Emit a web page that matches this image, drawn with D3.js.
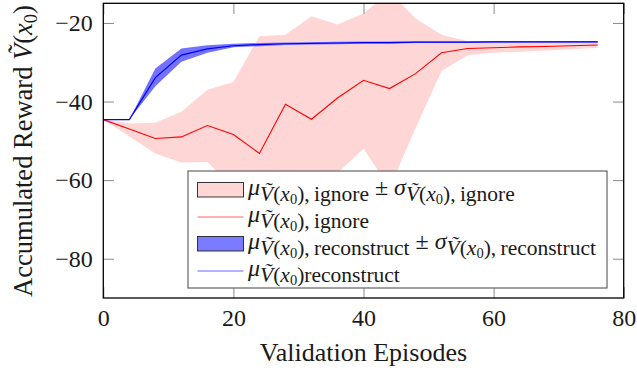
<!DOCTYPE html>
<html><head><meta charset="utf-8">
<script src="https://cdn.jsdelivr.net/npm/d3@7"></script>
</head><body style="margin:0;background:#fff">
<svg id="c" width="637" height="371"></svg>
<script>
const episodes = [0,4,8,12,16,20,24,28,32,36,40,44,48,52,56,60,64,68,72,76];
const ignoreMean  = [-44.6,-47.0,-49.4,-49.0,-46.1,-48.4,-53.2,-40.7,-44.5,-39.1,-34.6,-36.7,-32.9,-27.6,-26.5,-26.3,-26.1,-26.0,-25.8,-25.6];
const ignoreUpper = [-44.6,-45.6,-45.4,-42.6,-37.0,-35.0,-23.4,-23.0,-18.3,-20.4,-17.6,-12.0,-18.9,-23.0,-24.6,-24.7,-24.7,-24.8,-24.8,-24.9];
const ignoreLower = [-44.6,-48.9,-53.2,-55.5,-55.4,-62.0,-68.0,-66.0,-64.0,-58.2,-52.0,-62.0,-46.8,-32.2,-28.2,-27.6,-27.3,-27.0,-26.7,-26.4];
const reconMean   = [-44.6,-44.6,-33.9,-28.2,-26.6,-25.8,-25.5,-25.3,-25.2,-25.1,-25.0,-25.0,-24.9,-24.9,-24.9,-24.8,-24.8,-24.8,-24.8,-24.8];
const reconUpper  = [-44.6,-44.6,-31.6,-26.5,-25.7,-25.3,-25.1,-25.0,-24.9,-24.8,-24.7,-24.7,-24.7,-24.7,-24.7,-24.6,-24.6,-24.6,-24.6,-24.6];
const reconLower  = [-44.6,-44.6,-36.1,-29.9,-27.6,-26.2,-25.9,-25.6,-25.5,-25.4,-25.3,-25.3,-25.1,-25.1,-25.1,-25.0,-25.0,-25.0,-25.0,-25.0];
const xTicks = [0,20,40,60,80];
const yTicks = [-80,-60,-40,-20];

const FONT = 'Liberation Serif';
const INK = '#1a1a1a';
const svg = d3.select('#c');
const M = {l:103.3, r:623.7, t:3.3, b:298};
const x = d3.scaleLinear().domain([0,80]).range([M.l, M.r]);
const y = d3.scaleLinear().domain([-90,-15]).range([M.b, M.t]);

function txt(sel, size){
  return sel.append('text').attr('font-family', FONT).attr('font-size', size).attr('fill', INK);
}

svg.append('defs').append('clipPath').attr('id','clip')
  .append('rect').attr('x',M.l).attr('y',M.t).attr('width',M.r-M.l).attr('height',M.b-M.t);

const g = svg.append('g').attr('clip-path','url(#clip)');
const area = (lo,hi)=>d3.area().x((d,i)=>x(episodes[i])).y0((d,i)=>y(lo[i])).y1((d,i)=>y(hi[i]));
const line = (v)=>d3.line().x((d,i)=>x(episodes[i])).y((d,i)=>y(v[i]));

g.append('path').attr('d',area(ignoreLower,ignoreUpper)(episodes)).attr('fill','#ffd6d6');
g.append('path').attr('d',line(ignoreMean)(episodes)).attr('fill','none').attr('stroke','#ff0000').attr('stroke-width',1.1);
g.append('path').attr('d',area(reconLower,reconUpper)(episodes)).attr('fill','#7272ff');
g.append('path').attr('d',line(reconMean)(episodes)).attr('fill','none').attr('stroke','#0000ff').attr('stroke-width',1.2);

// axes
const TS = 10.7;
function styleAxis(sel){
  sel.attr('font-family', FONT).attr('font-size', 24);
  sel.select('.domain').remove();
  sel.selectAll('.tick line').attr('stroke','#8a8a8a').attr('stroke-width',1);
  sel.selectAll('.tick text').attr('font-family',FONT).attr('font-size',24).attr('fill',INK);
}
svg.append('g').attr('transform',`translate(0,${M.b})`)
  .call(d3.axisBottom(x).tickValues(xTicks).tickSize(-TS).tickPadding(11)).call(styleAxis);
svg.append('g').attr('transform',`translate(0,${M.t})`)
  .call(d3.axisTop(x).tickValues(xTicks).tickSize(-TS).tickFormat('')).call(styleAxis);
svg.append('g').attr('transform',`translate(${M.l},0)`)
  .call(d3.axisLeft(y).tickValues(yTicks).tickSize(-TS).tickPadding(10.6)).call(styleAxis);
svg.append('g').attr('transform',`translate(${M.r},0)`)
  .call(d3.axisRight(y).tickValues(yTicks).tickSize(-TS).tickFormat('')).call(styleAxis);

svg.append('rect').attr('x',M.l).attr('y',M.t).attr('width',M.r-M.l).attr('height',M.b-M.t)
  .attr('fill','none').attr('stroke','#000').attr('stroke-width',1.3);

// axis labels
txt(svg, 26).attr('x',(M.l+M.r)/2).attr('y',361).attr('text-anchor','middle').text('Validation Episodes');
const yl = txt(svg, 26.5).attr('transform','translate(32,151) rotate(-90)').attr('text-anchor','middle');
yl.append('tspan').text('Accumulated Reward ');
yl.append('tspan').attr('font-style','italic').text('Ṽ');
yl.append('tspan').text('(');
yl.append('tspan').attr('font-style','italic').text('x');
yl.append('tspan').attr('font-size',18.5).attr('dy',4.5).text('0');
yl.append('tspan').attr('dy',-4.5).text(')');

// legend
const LG = {x:188, y:171, w:419, h:117};
svg.append('rect').attr('x',LG.x).attr('y',LG.y).attr('width',LG.w).attr('height',LG.h)
  .attr('fill','#fff').attr('stroke','#555').attr('stroke-width',1.1);

function mathLabel(sel, x0, row, items){
  const t = txt(sel, 20).attr('x',x0).attr('y',row+5);
  items.forEach(it=>{
    const s = t.append('tspan').attr('y', row + (it.sh||5)).attr('font-size', it.fs).text(it.t);
    if(it.it) s.attr('font-style','italic');
  });
  return t;
}
function sub(name, comma){
  return [
    {t:'Ṽ', it:true, fs:21.5, sh:10.5},
    {t:'(', fs:21.5, sh:10.5},
    {t:'x', it:true, fs:21.5, sh:10.5},
    {t:'0', fs:14.5, sh:13.5},
    {t:')'+(comma?',\u2009':'')+name, fs:21.5, sh:10.5}
  ];
}
const legendRows = [
  {type:'area', fill:'#ffd6d6', items:[{t:'μ',it:true,fs:24}, ...sub('ignore',true), {t:' ± ',fs:24}, {t:'σ',it:true,fs:24}, ...sub('ignore',true)]},
  {type:'line', color:'#ff0000', items:[{t:'μ',it:true,fs:24}, ...sub('ignore',true)]},
  {type:'area', fill:'#7b7bff', items:[{t:'μ',it:true,fs:24}, ...sub('reconstruct',true), {t:' ± ',fs:24}, {t:'σ',it:true,fs:24}, ...sub('reconstruct',true)]},
  {type:'line', color:'#0000ff', items:[{t:'μ',it:true,fs:24}, ...sub('reconstruct',false)]}
];
const rowY = [190, 217, 244, 271];
legendRows.forEach((r,i)=>{
  const cy = rowY[i];
  if(r.type==='area'){
    svg.append('rect').attr('x',197.5).attr('y',cy-7.5).attr('width',46).attr('height',14.5)
      .attr('fill',r.fill).attr('stroke','#222').attr('stroke-width',0.9);
  } else {
    svg.append('line').attr('x1',197.5).attr('x2',243.5).attr('y1',cy).attr('y2',cy)
      .attr('stroke',r.color).attr('stroke-width',1.1).attr('stroke-opacity',0.6);
  }
  mathLabel(svg, 248, cy, r.items);
});
</script>
</body></html>
